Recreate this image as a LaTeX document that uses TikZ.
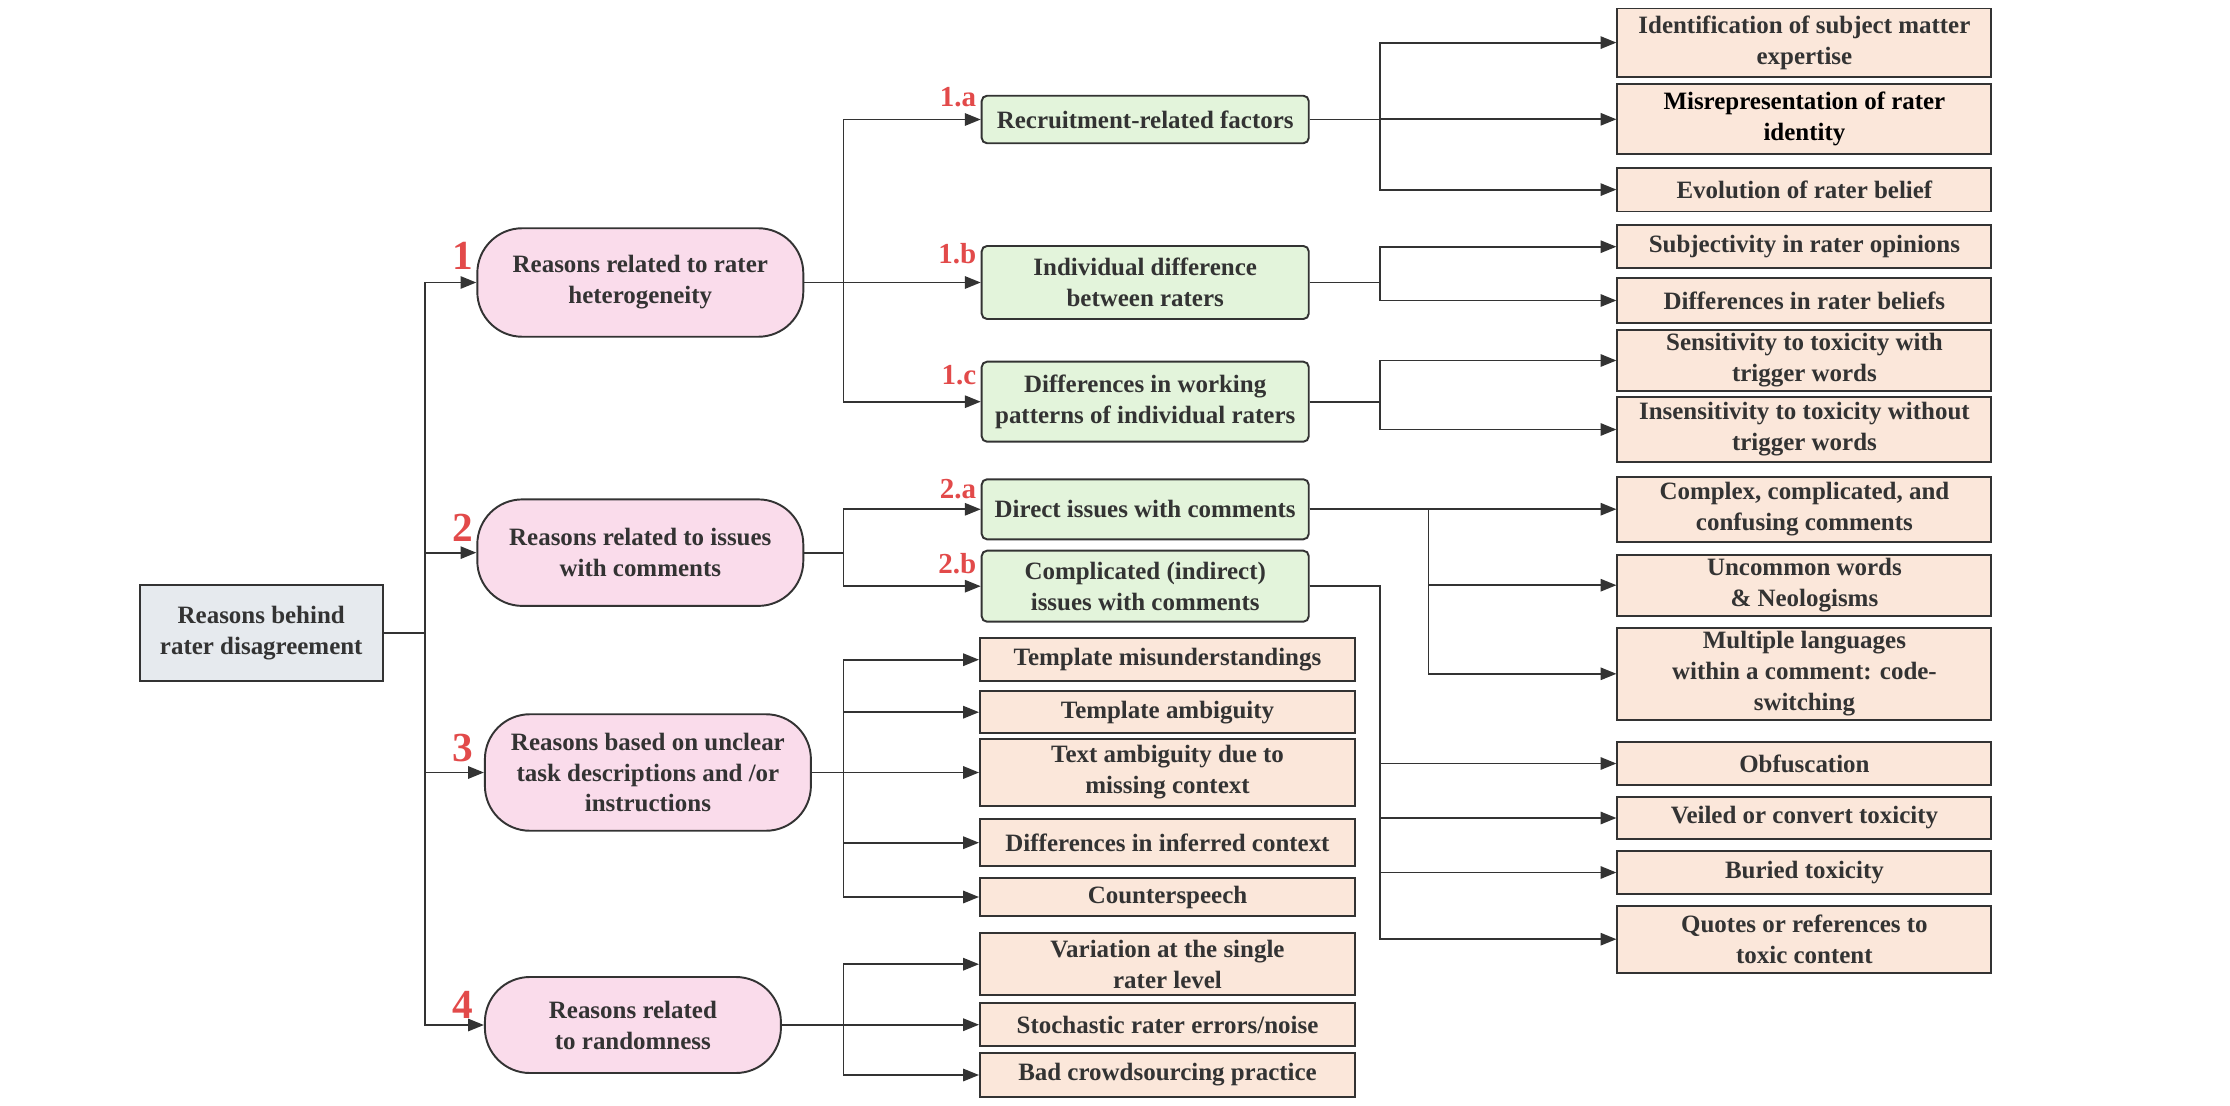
\documentclass[tikz,border=0pt]{standalone}
\usepackage{fontspec}
\setmainfont{Liberation Serif}
\usetikzlibrary{arrows.meta,calc}

\definecolor{pinkfill}{HTML}{FADCEB}
\definecolor{greenfill}{HTML}{E3F4DB}
\definecolor{peachfill}{HTML}{FBE7DA}
\definecolor{rootfill}{HTML}{E6EAEE}
\definecolor{inkgrey}{HTML}{333333}
\definecolor{numred}{HTML}{E24A4A}

\tikzset{
  base/.style = {draw=inkgrey, line width=1.1pt, text=inkgrey, align=center,
    font=\fontsize{14.2}{17.6}\selectfont\bfseries, inner sep=2pt},
  rootbox/.style = {base, fill=rootfill, minimum width=4.86cm, minimum height=1.93cm},
  reason/.style = {base, fill=pinkfill, rounded corners=0.9cm, minimum width=6.52cm},
  factor/.style = {base, fill=greenfill, rounded corners=3pt, minimum width=6.54cm},
  leaf/.style = {base, fill=peachfill, minimum width=7.48cm},
  subleaf/.style = {base, fill=peachfill, minimum width=7.5cm},
  numlbl/.style = {text=numred, font=\fontsize{23.5}{24}\selectfont\bfseries,
    inner sep=0pt, anchor=base east},
  sublbl/.style = {text=numred, font=\fontsize{16.5}{17}\selectfont\bfseries,
    inner sep=0pt, anchor=base east},
  arr/.style = {draw=inkgrey, line width=1.1pt, -{Triangle[length=9pt,width=7pt]}}
}

\begin{document}
\begin{tikzpicture}
  \useasboundingbox (0,0) rectangle (44.6,-22.12);

  % root and main reasons
  \node[rootbox] (root) at (5.225,-12.663) {Reasons behind\\rater disagreement};
  \node[reason, minimum height=2.17cm] (n1) at (12.806,-5.65) {Reasons related to rater\\heterogeneity};
  \node[reason, minimum height=2.13cm] (n2) at (12.806,-11.053) {Reasons related to issues\\with comments};
  \node[reason, minimum height=2.33cm] (n3) at (12.958,-15.45) {Reasons based on unclear\\task descriptions and /or\\instructions};
  \node[reason, minimum width=5.92cm, minimum height=1.92cm] (n4) at (12.658,-20.5) {Reasons related\\to randomness};

  \node[numlbl] (l1) at (9.47,-5.40) {1};
  \node[numlbl] (l2) at (9.47,-10.83) {2};
  \node[numlbl] (l3) at (9.47,-15.23) {3};
  \node[numlbl] (l4) at (9.47,-20.37) {4};

  % factors
  \node[factor, minimum height=0.95cm] (m1a) at (22.904,-2.39) {Recruitment-related factors};
  \node[factor, minimum height=1.46cm] (m1b) at (22.904,-5.65) {Individual difference\\between raters};
  \node[factor, minimum height=1.6cm] (m1c) at (22.904,-8.034) {Differences in working\\patterns of individual raters};
  \node[factor, minimum height=1.2cm] (m2a) at (22.904,-10.186) {Direct issues with comments};
  \node[factor, minimum height=1.42cm] (m2b) at (22.904,-11.724) {Complicated (indirect)\\issues with comments};

  \node[sublbl] (l1a) at (19.53,-2.134) {1.a};
  \node[sublbl] (l1b) at (19.53,-5.27) {1.b};
  \node[sublbl] (l1c) at (19.53,-7.70) {1.c};
  \node[sublbl] (l2a) at (19.53,-9.967) {2.a};
  \node[sublbl] (l2b) at (19.53,-11.467) {2.b};

  % right column
  \node[leaf, minimum height=1.364cm] (a1) at (36.088,-0.852) {Identification of subject matter\\expertise};
  \node[leaf, minimum height=1.4cm, text=black] (a2) at (36.088,-2.386) {Misrepresentation of rater\\identity};
  \node[leaf, minimum height=0.876cm] (a3) at (36.088,-3.792) {Evolution of rater belief};
  \node[leaf, minimum height=0.866cm] (b1) at (36.088,-4.934) {Subjectivity in rater opinions};
  \node[leaf, minimum height=0.912cm] (b2) at (36.088,-6.01) {Differences in rater beliefs};
  \node[leaf, minimum height=1.18cm] (c1) at (36.088,-7.21) {Sensitivity to toxicity with\\trigger words};
  \node[leaf, minimum height=1.312cm] (c2) at (36.088,-8.59) {Insensitivity to toxicity without\\trigger words};
  \node[leaf, minimum height=1.3cm] (d1) at (36.088,-10.184) {Complex, complicated, and\\confusing comments};
  \node[leaf, minimum height=1.166cm] (d2) at (36.088,-11.704) {Uncommon words\\\& Neologisms};
  \node[leaf, minimum height=1.82cm] (d3) at (36.088,-13.476) {Multiple languages\\within a comment: code-\\switching};
  \node[leaf, minimum height=0.86cm] (e1) at (36.088,-15.27) {Obfuscation};
  \node[leaf, minimum height=0.852cm] (e2) at (36.088,-16.36) {Veiled or convert toxicity};
  \node[leaf, minimum height=0.86cm] (e3) at (36.088,-17.45) {Buried toxicity};
  \node[leaf, minimum height=1.34cm] (e4) at (36.088,-18.784) {Quotes or references to\\toxic content};

  % middle column
  \node[subleaf, minimum height=0.854cm] (f1) at (23.35,-13.194) {Template misunderstandings};
  \node[subleaf, minimum height=0.846cm] (f2) at (23.35,-14.244) {Template ambiguity};
  \node[subleaf, minimum height=1.34cm] (f3) at (23.35,-15.45) {Text ambiguity due to\\missing context};
  \node[subleaf, minimum height=0.934cm] (f4) at (23.35,-16.854) {Differences in inferred context};
  \node[subleaf, minimum height=0.748cm] (f5) at (23.35,-17.94) {Counterspeech};
  \node[subleaf, minimum height=1.234cm] (g1) at (23.35,-19.284) {Variation at the single\\rater level};
  \node[subleaf, minimum height=0.854cm] (g2) at (23.35,-20.494) {Stochastic rater errors/noise};
  \node[subleaf, minimum height=0.868cm] (g3) at (23.35,-21.5) {Bad crowdsourcing practice};

  % bus lines
  \coordinate (trunk) at (8.5,0);
  \coordinate (midbus) at (16.87,0);
  \coordinate (leafbus) at (27.6,0);
  \coordinate (directbus) at (28.57,0);

  \draw[arr] (root.east) -- (root.east -| trunk) |- (n1.west);
  \draw[arr] (root.east) -- (root.east -| trunk) |- (n2.west);
  \draw[arr] (root.east) -- (root.east -| trunk) |- (n3.west);
  \draw[arr] (root.east) -- (root.east -| trunk) |- (n4.west);

  \draw[arr] (n1.east) -- (n1.east -| midbus) |- (m1a.west);
  \draw[arr] (n1.east) -- (n1.east -| midbus) |- (m1b.west);
  \draw[arr] (n1.east) -- (n1.east -| midbus) |- (m1c.west);
  \draw[arr] (n2.east) -- (n2.east -| midbus) |- (m2a.west);
  \draw[arr] (n2.east) -- (n2.east -| midbus) |- (m2b.west);
  \draw[arr] (n3.east) -- (n3.east -| midbus) |- (f1.west);
  \draw[arr] (n3.east) -- (n3.east -| midbus) |- (f2.west);
  \draw[arr] (n3.east) -- (n3.east -| midbus) |- (f3.west);
  \draw[arr] (n3.east) -- (n3.east -| midbus) |- (f4.west);
  \draw[arr] (n3.east) -- (n3.east -| midbus) |- (f5.west);
  \draw[arr] (n4.east) -- (n4.east -| midbus) |- (g1.west);
  \draw[arr] (n4.east) -- (n4.east -| midbus) |- (g2.west);
  \draw[arr] (n4.east) -- (n4.east -| midbus) |- (g3.west);

  \draw[arr] (m1a.east) -- (m1a.east -| leafbus) |- (a1.west);
  \draw[arr] (m1a.east) -- (m1a.east -| leafbus) |- (a2.west);
  \draw[arr] (m1a.east) -- (m1a.east -| leafbus) |- (a3.west);
  \draw[arr] (m1b.east) -- (m1b.east -| leafbus) |- (b1.west);
  \draw[arr] (m1b.east) -- (m1b.east -| leafbus) |- (b2.west);
  \draw[arr] (m1c.east) -- (m1c.east -| leafbus) |- (c1.west);
  \draw[arr] (m1c.east) -- (m1c.east -| leafbus) |- (c2.west);
  \draw[arr] (m2a.east) -- (m2a.east -| directbus) |- (d1.west);
  \draw[arr] (m2a.east) -- (m2a.east -| directbus) |- (d2.west);
  \draw[arr] (m2a.east) -- (m2a.east -| directbus) |- (d3.west);
  \draw[arr] (m2b.east) -- (m2b.east -| leafbus) |- (e1.west);
  \draw[arr] (m2b.east) -- (m2b.east -| leafbus) |- (e2.west);
  \draw[arr] (m2b.east) -- (m2b.east -| leafbus) |- (e3.west);
  \draw[arr] (m2b.east) -- (m2b.east -| leafbus) |- (e4.west);
\end{tikzpicture}
\end{document}
